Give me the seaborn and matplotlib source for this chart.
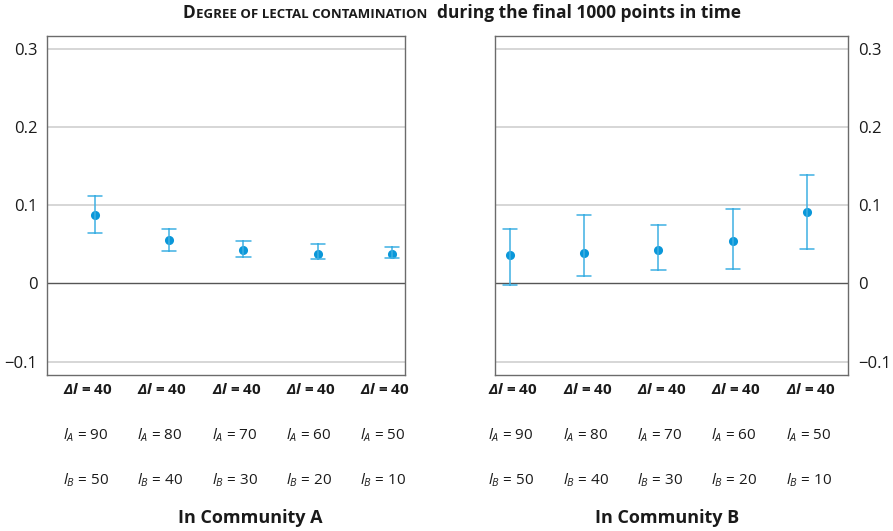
import numpy as np
import pandas as pd
import matplotlib
matplotlib.use("Agg")
import matplotlib.pyplot as plt
import matplotlib.transforms as mtransforms
from matplotlib.offsetbox import TextArea, HPacker, AnchoredOffsetbox
import seaborn as sns

# ---- data -------------------------------------------------------------
settings = ["s1", "s2", "s3", "s4", "s5"]
delta_l = [40, 40, 40, 40, 40]
l_a = [90, 80, 70, 60, 50]
l_b = [50, 40, 30, 20, 10]

mean_a = [0.087, 0.055, 0.043, 0.038, 0.038]
low_a = [0.064, 0.042, 0.034, 0.031, 0.032]
high_a = [0.112, 0.070, 0.054, 0.050, 0.047]

mean_b = [0.036, 0.039, 0.0425, 0.054, 0.091]
low_b = [-0.002, 0.009, 0.017, 0.019, 0.044]
high_b = [0.069, 0.087, 0.075, 0.095, 0.138]

yticks = [-0.1, 0.0, 0.1, 0.2, 0.3]
ytick_labels = ["\u22120.1", "0", "0.1", "0.2", "0.3"]
panel_titles = ["In Community A", "In Community B"]


def long_table(low, mid, high):
    rows = []
    for s, lo, m, hi in zip(settings, low, mid, high):
        for v in (lo, m, hi):
            rows.append({"setting": s, "value": v})
    return pd.DataFrame(rows)


# ---- style ------------------------------------------------------------
sns.set_theme(style="white")
plt.rcParams["font.family"] = ["Open Sans", "DejaVu Sans"]
plt.rcParams["mathtext.fontset"] = "custom"
plt.rcParams["mathtext.rm"] = "Open Sans"
plt.rcParams["mathtext.it"] = "Open Sans:italic"
plt.rcParams["mathtext.bf"] = "Open Sans:bold:italic"

POINT = "#0a97d9"
ERR = "#3fb0e3"
TEXT = "#1a1a1a"

fig = plt.figure(figsize=(8.93, 5.31), dpi=100)
W, H = 893, 531
ax_a = fig.add_axes([47 / W, 1 - 375 / H, 358 / W, 339 / H])
ax_b = fig.add_axes([495 / W, 1 - 375 / H, 353 / W, 339 / H])

panels = [
    (ax_a, long_table(low_a, mean_a, high_a), (-0.646, 4.175), -0.43, "left"),
    (ax_b, long_table(low_b, mean_b, high_b), (-0.20, 4.55), -0.29, "right"),
]

for i, (ax, df, xlim, lab_off, side) in enumerate(panels):
    for y in yticks:
        if y == 0:
            continue
        ax.axhline(y, color="#d6d6d6", lw=1.4, zorder=0)
    ax.axhline(0, color="#555555", lw=1.0, zorder=1)

    sns.pointplot(
        data=df, x="setting", y="value", ax=ax,
        estimator="median",
        errorbar=lambda v: (v.min(), v.max()),
        color=POINT, linestyle="none", markers="o", markersize=4.5,
        capsize=0.19, err_kws={"color": ERR, "linewidth": 1.1},
        order=settings,
    )

    ax.set_xlim(*xlim)
    ax.set_ylim(-0.117, 0.316)
    ax.set_xticks([])
    ax.set_xlabel("")
    ax.set_ylabel("")
    ax.set_yticks(yticks)
    ax.set_yticklabels(ytick_labels, fontsize=12, color=TEXT)
    ax.tick_params(axis="y", length=0, pad=7)
    if side == "right":
        ax.yaxis.tick_right()
    for sp in ax.spines.values():
        sp.set_color("#6b6b6b")
        sp.set_linewidth(1.0)

    # parameter labels under each setting
    tr = mtransforms.blended_transform_factory(ax.transData, fig.transFigure)
    for k in range(len(settings)):
        x = k + lab_off
        ax.text(x, 1 - 390 / H, r"$\mathbf{\Delta l}$" + f" = {delta_l[k]}",
                transform=tr, ha="left", va="center", fontsize=11,
                fontweight="bold", color=TEXT)
        ax.text(x, 1 - 435 / H, r"$l_{A}$" + f" = {l_a[k]}",
                transform=tr, ha="left", va="center", fontsize=11, color=TEXT)
        ax.text(x, 1 - 480 / H, r"$l_{B}$" + f" = {l_b[k]}",
                transform=tr, ha="left", va="center", fontsize=11, color=TEXT)

fig.text(250 / W, 1 - 518 / H, panel_titles[0], ha="center", va="center",
         fontsize=13, fontweight="bold", color=TEXT)
fig.text(667 / W, 1 - 518 / H, panel_titles[1], ha="center", va="center",
         fontsize=13, fontweight="bold", color=TEXT)

# title with small-caps lead-in
big = dict(fontsize=12.5, fontweight="bold", color=TEXT)
small = dict(fontsize=9.5, fontweight="bold", color=TEXT)
parts = [
    TextArea("D", textprops=big),
    TextArea("EGREE OF LECTAL CONTAMINATION", textprops=small),
    TextArea("  during the final 1000 points in time", textprops=big),
]
title_box = HPacker(children=parts, align="baseline", pad=0, sep=0.5)
anch = AnchoredOffsetbox(loc="center", child=title_box, frameon=False,
                         bbox_to_anchor=(462 / W, 1 - 13 / H),
                         bbox_transform=fig.transFigure, pad=0, borderpad=0)
fig.add_artist(anch)

fig.savefig("out.png", dpi=100)
